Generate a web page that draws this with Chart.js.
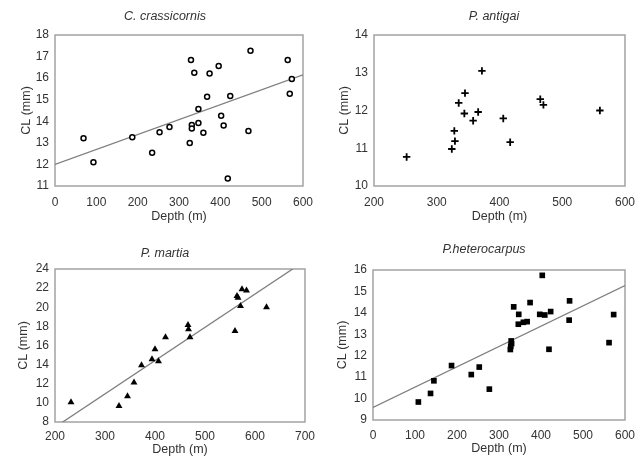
<!DOCTYPE html>
<html>
<head>
<meta charset="utf-8">
<script src="https://cdn.jsdelivr.net/npm/chart.js@4/dist/chart.umd.min.js"></script>
<style>
  html, body { margin: 0; padding: 0; background: #ffffff; }
  #wrap { position: relative; width: 644px; height: 464px; overflow: hidden; }
  .panel { position: absolute; width: 322px; height: 232px; }
</style>
</head>
<body>
<div id="wrap">
  <div class="panel" style="left:0;top:0"><canvas id="c1" width="322" height="232"></canvas></div>
  <div class="panel" style="left:322px;top:0"><canvas id="c2" width="322" height="232"></canvas></div>
  <div class="panel" style="left:0;top:232px"><canvas id="c3" width="322" height="232"></canvas></div>
  <div class="panel" style="left:322px;top:232px"><canvas id="c4" width="322" height="232"></canvas></div>
</div>
<script>
// ---------- data ----------
const titles = ['C. crassicornis', 'P. antigai', 'P. martia', 'P.heterocarpus'];
const xAxisLabel = 'Depth (m)';
const yAxisLabel = 'CL (mm)';

// C. crassicornis
const crassDepth = [69, 93, 187, 235, 253, 277, 329, 337, 331, 331, 326, 347, 347, 359, 368, 374, 396, 402, 408, 424, 418, 468, 473, 563, 568, 573];
const crassCL    = [13.21, 12.1, 13.26, 12.54, 13.49, 13.73, 16.84, 16.25, 13.83, 13.67, 12.99, 13.92, 14.57, 13.47, 15.14, 16.22, 16.56, 14.26, 13.8, 15.17, 11.35, 13.55, 17.27, 16.84, 15.28, 15.96];
const crassTrend = [12.0, 0.00692]; // intercept, slope

// P. antigai
const antigaiDepth = [252, 324, 329, 328, 335, 344, 345, 358, 366, 372, 406, 417, 465, 470, 560];
const antigaiCL    = [10.77, 10.98, 11.19, 11.46, 12.2, 11.92, 12.46, 11.73, 11.96, 13.05, 11.79, 11.16, 12.3, 12.15, 12.0];

// P. martia
const martiaDepth = [232, 328, 345, 358, 373, 394, 400, 407, 421, 466, 467, 470, 560, 564, 566, 571, 574, 583, 623];
const martiaCL    = [10.06, 9.68, 10.69, 12.12, 13.93, 14.56, 15.6, 14.35, 16.86, 18.15, 17.69, 16.86, 17.52, 21.18, 21.0, 20.13, 21.87, 21.74, 19.99];
const martiaTrend = [0.50, 0.0348];

// P. heterocarpus
const heteroDepth = [108, 137, 145, 187, 234, 253, 277, 327, 328, 329, 330, 335, 346, 347, 358, 367, 374, 397, 403, 409, 423, 419, 468, 467, 562, 573];
const heteroCL    = [9.84, 10.24, 10.83, 11.54, 11.12, 11.47, 10.44, 12.29, 12.44, 12.69, 12.57, 14.28, 13.47, 13.93, 13.56, 13.59, 14.48, 13.93, 15.75, 13.9, 14.06, 12.3, 14.56, 13.66, 12.61, 13.92];
const heteroTrend = [9.59, 0.00947];

// axis ranges: [min, max, step]
const xRanges = [[0, 600, 100], [200, 600, 100], [200, 700, 100], [0, 600, 100]];
const yRanges = [[11, 18, 1], [10, 14, 1], [8, 24, 2], [9, 16, 1]];

// ---------- helpers ----------
const FONT = "'Liberation Sans', Arial, sans-serif";
const TICK_FONT = { family: FONT, size: 12 };
const AXIS_FONT = { family: FONT, size: 12.5 };
const pts = (xs, ys) => xs.map((x, i) => ({ x: x, y: ys[i] }));
const trendPts = (t, r) => [{ x: r[0], y: t[0] + t[1] * r[0] }, { x: r[1], y: t[0] + t[1] * r[1] }];

const framePlugin = {
  id: 'frame',
  beforeDatasetsDraw(chart, args, o) {
    const { ctx, chartArea: a } = chart;
    ctx.save();
    ctx.strokeStyle = '#a3a3a3';
    ctx.lineWidth = 1.5;
    ctx.strokeRect(a.left, a.top, a.right - a.left, a.bottom - a.top);
    ctx.restore();
  },
  afterDraw(chart, args, o) {
    const ctx = chart.ctx;
    ctx.save();
    ctx.font = 'italic 12.5px ' + FONT;
    ctx.fillStyle = '#333333';
    ctx.textAlign = 'center';
    ctx.textBaseline = 'middle';
    ctx.fillText(o.text, o.x, o.y);
    ctx.restore();
  }
};

function makeChart(id, p) {
  const datasets = [{
    type: 'scatter',
    data: p.points,
    pointStyle: p.style,
    radius: p.radius,
    pointRadius: p.radius,
    pointHoverRadius: p.radius,
    backgroundColor: p.fill,
    borderColor: '#000000',
    pointBorderWidth: p.bw,
    borderWidth: p.bw,
    order: 1
  }];
  if (p.trend) {
    datasets.push({
      type: 'line',
      data: p.trend,
      borderColor: '#7f7f7f',
      borderWidth: 1.3,
      pointRadius: 0,
      fill: false,
      tension: 0,
      order: 2
    });
  }
  return new Chart(document.getElementById(id), {
    data: { datasets },
    plugins: [framePlugin],
    options: {
      responsive: false,
      animation: false,
      events: [],
      layout: { padding: { left: 0, top: p.top, right: p.right, bottom: 0 } },
      plugins: {
        legend: { display: false },
        tooltip: { enabled: false },
        title: { display: false },
        frame: { text: p.title, x: p.titleX, y: p.titleY }
      },
      scales: {
        x: {
          type: 'linear',
          min: p.xr[0], max: p.xr[1],
          grid: { display: false, drawTicks: false },
          border: { display: false },
          ticks: { stepSize: p.xr[2], padding: p.xTickPad, maxRotation: 0, autoSkip: false, color: '#333333', font: TICK_FONT },
          title: { display: true, text: xAxisLabel, color: '#333333', font: AXIS_FONT, padding: { top: 0, bottom: p.xTitlePad } },
          afterFit(s) { s.height = p.xH; }
        },
        y: {
          type: 'linear',
          min: p.yr[0], max: p.yr[1],
          grid: { display: false, drawTicks: false },
          border: { display: false },
          ticks: { stepSize: p.yr[2], padding: 6, autoSkip: false, color: '#333333', font: TICK_FONT },
          title: { display: true, text: yAxisLabel, color: '#333333', font: AXIS_FONT, padding: { top: p.yTitlePad, bottom: 0 } },
          afterFit(s) { s.width = p.yW; }
        }
      }
    }
  });
}

makeChart('c1', {
  title: titles[0], titleX: 165, titleY: 17,
  points: pts(crassDepth, crassCL), trend: trendPts(crassTrend, xRanges[0]),
  style: 'circle', radius: 2.5, bw: 1.5, fill: '#ffffff',
  xr: xRanges[0], yr: yRanges[0],
  top: 35, right: 16, yW: 55, xH: 46, xTickPad: 9, xTitlePad: 8, yTitlePad: 19
});
makeChart('c2', {
  title: titles[1], titleX: 172, titleY: 17,
  points: pts(antigaiDepth, antigaiCL), trend: null,
  style: 'cross', radius: 3.7, bw: 1.8, fill: '#000000',
  xr: xRanges[1], yr: yRanges[1],
  top: 35, right: 18, yW: 52, xH: 46, xTickPad: 9, xTitlePad: 8, yTitlePad: 15
});
makeChart('c3', {
  title: titles[2], titleX: 165, titleY: 22,
  points: pts(martiaDepth, martiaCL), trend: trendPts(martiaTrend, xRanges[2]),
  style: 'triangle', radius: 4, bw: 0, fill: '#000000',
  xr: xRanges[2], yr: yRanges[2],
  top: 37, right: 15, yW: 55, xH: 42, xTickPad: 7, xTitlePad: 7, yTitlePad: 16
});
makeChart('c4', {
  title: titles[3], titleX: 162, titleY: 18,
  points: pts(heteroDepth, heteroCL), trend: trendPts(heteroTrend, xRanges[3]),
  style: 'rect', radius: 4, bw: 0, fill: '#000000',
  xr: xRanges[3], yr: yRanges[3],
  top: 38, right: 19, yW: 51, xH: 44, xTickPad: 8, xTitlePad: 8, yTitlePad: 13
});
</script>
</body>
</html>
